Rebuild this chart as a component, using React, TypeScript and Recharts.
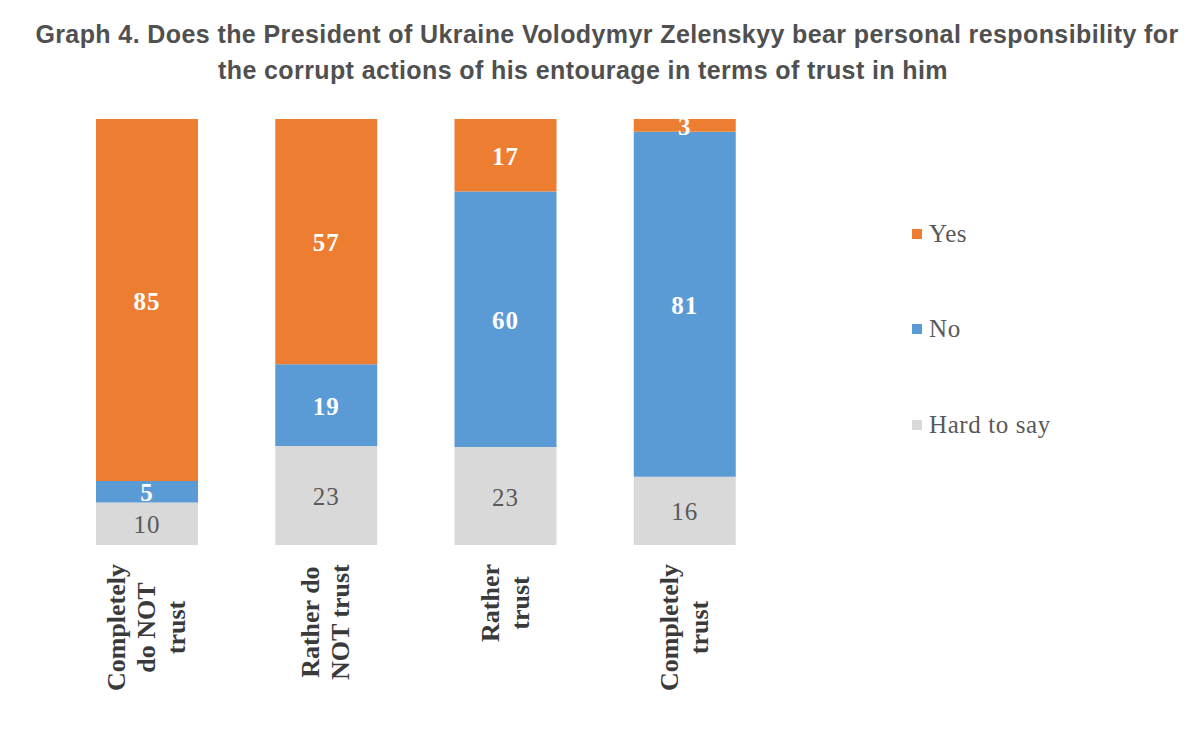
import React from 'react'
import { BarChart, Bar, XAxis, YAxis, LabelList } from 'recharts'

const categories = ['Completely do NOT trust', 'Rather do NOT trust', 'Rather trust', 'Completely trust']
const tickLines = [['Completely', 'do NOT', 'trust'], ['Rather do', 'NOT trust'], ['Rather', 'trust'], ['Completely', 'trust']]
const yes = [85, 57, 17, 3]
const no = [5, 19, 60, 81]
const hardToSay = [10, 23, 23, 16]
const titleLines = [
  'Graph 4. Does the President of Ukraine Volodymyr Zelenskyy bear personal responsibility for',
  'the corrupt actions of his entourage in terms of trust in him',
]

const series = [
  { key: 'hard', name: 'Hard to say', values: hardToSay, color: '#D9D9D9', text: '#595959', bold: false },
  { key: 'no', name: 'No', values: no, color: '#5B9BD5', text: '#ffffff', bold: true },
  { key: 'yes', name: 'Yes', values: yes, color: '#ED7D31', text: '#ffffff', bold: true },
]

const data = categories.map((c, i) => ({ name: c, yes: yes[i], no: no[i], hard: hardToSay[i] }))

const SERIF = '"Liberation Serif", "Times New Roman", serif'
const TICK_FONT = `bold 26px ${SERIF}`

let ctx: CanvasRenderingContext2D | null = null
const measure = (s: string, font: string) => {
  if (!ctx) ctx = document.createElement('canvas').getContext('2d')
  if (!ctx) return s.length * 12
  ctx.font = font
  return ctx.measureText(s).width
}

const CategoryTick = (props: any) => {
  const { x, y, payload } = props
  const lines = tickLines[payload.index] || [payload.value]
  const maxW = Math.max(...lines.map((l) => measure(l, TICK_FONT)))
  const n = lines.length
  return (
    <g transform={`translate(${x},${y + 2}) rotate(-90)`}>
      {lines.map((l, k) => (
        <text
          key={k}
          x={-maxW / 2}
          y={(k - (n - 1) / 2) * 30}
          textAnchor="middle"
          dominantBaseline="central"
          fontFamily={SERIF}
          fontWeight="bold"
          fontSize={26}
          fill="#3a3a3a"
        >
          {l}
        </text>
      ))}
    </g>
  )
}

const makeLabel = (values: number[], color: string, bold: boolean) => (props: any) => {
  const { x, y, width, height, index } = props
  return (
    <text
      x={x + width / 2}
      y={y + height / 2 + 1}
      textAnchor="middle"
      dominantBaseline="central"
      fontFamily={SERIF}
      fontWeight={bold ? 'bold' : 'normal'}
      fontSize={25}
      letterSpacing={1}
      fill={color}
    >
      {values[index]}
    </text>
  )
}

const LegendBox = () => (
  <div
    style={{
      position: 'absolute',
      left: 912,
      top: 186,
      fontFamily: SERIF,
      fontSize: 25,
      letterSpacing: 0.6,
      color: '#595959',
    }}
  >
    {[...series].reverse().map((s) => (
      <div key={s.key} style={{ display: 'flex', alignItems: 'center', height: 95.5 }}>
        <span style={{ width: 10, height: 10, background: s.color, marginRight: 7, display: 'inline-block' }} />
        <span>{s.name}</span>
      </div>
    ))}
  </div>
)

export default function App() {
  return (
    <div style={{ position: 'absolute', left: 0, top: 0, width: 1200, height: 735, background: '#fff' }}>
      <div
        style={{
          position: 'absolute',
          left: 0,
          top: 16,
          width: 1214,
          textAlign: 'center',
          fontFamily: '"Liberation Sans", Arial, sans-serif',
          fontWeight: 'bold',
          fontSize: 25,
          letterSpacing: 0.4,
          lineHeight: '36px',
          color: '#505050',
        }}
      >
        {titleLines.map((t, i) => (
          <div key={t} style={{ paddingRight: i === 1 ? 48 : 0 }}>
            {t}
          </div>
        ))}
      </div>
      <BarChart
        width={1200}
        height={735}
        data={data}
        stackOffset="expand"
        barSize={102}
        margin={{ top: 119, right: 426, bottom: 0, left: 57 }}
      >
        <XAxis
          dataKey="name"
          axisLine={false}
          tickLine={false}
          tickSize={0}
          tickMargin={17}
          interval={0}
          height={190}
          tick={<CategoryTick />}
        />
        <YAxis hide domain={[0, 1]} />
        {series.map((s) => (
          <Bar key={s.key} dataKey={s.key} name={s.name} stackId="a" fill={s.color} isAnimationActive={false}>
            <LabelList dataKey={s.key} content={makeLabel(s.values, s.text, s.bold)} />
          </Bar>
        ))}
      </BarChart>
      <LegendBox />
    </div>
  )
}
